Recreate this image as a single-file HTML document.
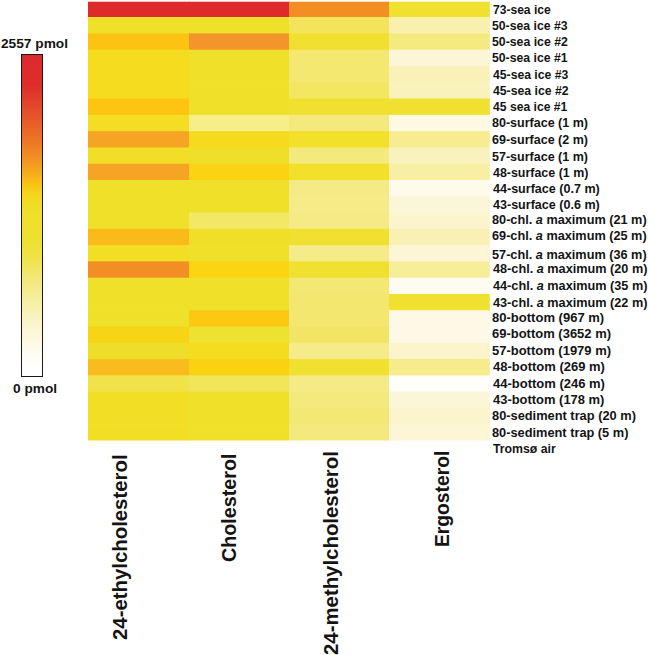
<!DOCTYPE html>
<html><head><meta charset="utf-8"><style>
html,body{margin:0;padding:0;background:#fff;}
body{width:648px;height:655px;position:relative;overflow:hidden;font-family:"Liberation Sans",sans-serif;font-weight:bold;color:#141414;}
svg.g{position:absolute;left:0;top:0;}
.rl{position:absolute;font-size:12.0px;line-height:14px;white-space:nowrap;transform-origin:0 0;}
.rl i{font-style:italic;}
.cb{position:absolute;left:21.3px;top:53.8px;width:19.4px;height:321.5px;border:1.2px solid #1a1a1a;
background:linear-gradient(to bottom,#DC2A2C 0.0%,#DE2E2B 9.4%,#E2402B 14.0%,#E85A2A 20.6%,#EE7826 27.4%,#F39A22 34.0%,#F8B81A 38.7%,#FBC614 40.9%,#F6D41A 43.0%,#F0DC22 45.5%,#EEE02A 49.9%,#EEE030 57.7%,#F0E140 61.8%,#F3E773 68.9%,#F6EEA0 76.1%,#FAF4CB 83.3%,#FDFAE8 90.5%,#FFFFFF 97.0%);}
.cl{position:absolute;font-size:12.4px;line-height:14px;white-space:nowrap;transform-origin:0 0;}
.h{position:absolute;font-size:20.0px;line-height:22px;white-space:nowrap;transform-origin:0 0;}
</style></head><body>
<svg class="g" width="648" height="655" viewBox="0 0 648 655"><rect x="88.00" y="1.70" width="101.60" height="15.90" fill="#DE2A2B"/><rect x="189.00" y="1.70" width="100.60" height="15.90" fill="#DE2A2B"/><rect x="289.00" y="1.70" width="100.60" height="15.90" fill="#F28E22"/><rect x="389.00" y="1.70" width="100.80" height="15.90" fill="#F0E030"/><rect x="88.00" y="17.00" width="101.60" height="17.06" fill="#F0E02A"/><rect x="189.00" y="17.00" width="100.60" height="17.06" fill="#EFE02A"/><rect x="289.00" y="17.00" width="100.60" height="17.06" fill="#F3E45C"/><rect x="389.00" y="17.00" width="100.80" height="17.06" fill="#F8F0AC"/><rect x="88.00" y="33.46" width="101.60" height="16.88" fill="#FDC312"/><rect x="189.00" y="33.46" width="100.60" height="16.88" fill="#F3952A"/><rect x="289.00" y="33.46" width="100.60" height="16.88" fill="#F0E030"/><rect x="389.00" y="33.46" width="100.80" height="16.88" fill="#F5EA80"/><rect x="88.00" y="49.74" width="101.60" height="16.88" fill="#F6DC1E"/><rect x="189.00" y="49.74" width="100.60" height="16.88" fill="#EFE02A"/><rect x="289.00" y="49.74" width="100.60" height="16.88" fill="#F4E870"/><rect x="389.00" y="49.74" width="100.80" height="16.88" fill="#FCF6D6"/><rect x="88.00" y="66.03" width="101.60" height="16.88" fill="#F6DC1E"/><rect x="189.00" y="66.03" width="100.60" height="16.88" fill="#EFE02A"/><rect x="289.00" y="66.03" width="100.60" height="16.88" fill="#F4E870"/><rect x="389.00" y="66.03" width="100.80" height="16.88" fill="#F9F1B8"/><rect x="88.00" y="82.31" width="101.60" height="16.88" fill="#F6DC1E"/><rect x="189.00" y="82.31" width="100.60" height="16.88" fill="#EFE02A"/><rect x="289.00" y="82.31" width="100.60" height="16.88" fill="#F3E660"/><rect x="389.00" y="82.31" width="100.80" height="16.88" fill="#F9F2BC"/><rect x="88.00" y="98.59" width="101.60" height="16.88" fill="#FDC512"/><rect x="189.00" y="98.59" width="100.60" height="16.88" fill="#EFE02A"/><rect x="289.00" y="98.59" width="100.60" height="16.88" fill="#F0E030"/><rect x="389.00" y="98.59" width="100.80" height="16.88" fill="#F0E030"/><rect x="88.00" y="114.87" width="101.60" height="16.88" fill="#F3DE24"/><rect x="189.00" y="114.87" width="100.60" height="16.88" fill="#F6EE88"/><rect x="289.00" y="114.87" width="100.60" height="16.88" fill="#F4E97C"/><rect x="389.00" y="114.87" width="100.80" height="16.88" fill="#FDF9E2"/><rect x="88.00" y="131.15" width="101.60" height="16.88" fill="#F5A424"/><rect x="189.00" y="131.15" width="100.60" height="16.88" fill="#F6DA1E"/><rect x="289.00" y="131.15" width="100.60" height="16.88" fill="#F2E02A"/><rect x="389.00" y="131.15" width="100.80" height="16.88" fill="#F7ED90"/><rect x="88.00" y="147.43" width="101.60" height="16.88" fill="#F2DE26"/><rect x="189.00" y="147.43" width="100.60" height="16.88" fill="#EEE02A"/><rect x="289.00" y="147.43" width="100.60" height="16.88" fill="#F4E97C"/><rect x="389.00" y="147.43" width="100.80" height="16.88" fill="#F9F2BC"/><rect x="88.00" y="163.71" width="101.60" height="16.88" fill="#F6A423"/><rect x="189.00" y="163.71" width="100.60" height="16.88" fill="#FAD414"/><rect x="289.00" y="163.71" width="100.60" height="16.88" fill="#F2E02A"/><rect x="389.00" y="163.71" width="100.80" height="16.88" fill="#F8EFA4"/><rect x="88.00" y="180.00" width="101.60" height="16.88" fill="#EFE02A"/><rect x="189.00" y="180.00" width="100.60" height="16.88" fill="#EFE02A"/><rect x="289.00" y="180.00" width="100.60" height="16.88" fill="#F5EB86"/><rect x="389.00" y="180.00" width="100.80" height="16.88" fill="#FEFBEA"/><rect x="88.00" y="196.28" width="101.60" height="16.88" fill="#EFE02A"/><rect x="189.00" y="196.28" width="100.60" height="16.88" fill="#EFE02A"/><rect x="289.00" y="196.28" width="100.60" height="16.88" fill="#F5EB88"/><rect x="389.00" y="196.28" width="100.80" height="16.88" fill="#FCF6D8"/><rect x="88.00" y="212.56" width="101.60" height="16.88" fill="#EFE02A"/><rect x="189.00" y="212.56" width="100.60" height="16.88" fill="#F3E866"/><rect x="289.00" y="212.56" width="100.60" height="16.88" fill="#F5EB86"/><rect x="389.00" y="212.56" width="100.80" height="16.88" fill="#FBF4CC"/><rect x="88.00" y="228.84" width="101.60" height="16.88" fill="#F9BA1A"/><rect x="189.00" y="228.84" width="100.60" height="16.88" fill="#F0DF28"/><rect x="289.00" y="228.84" width="100.60" height="16.88" fill="#F0E030"/><rect x="389.00" y="228.84" width="100.80" height="16.88" fill="#F9F1B4"/><rect x="88.00" y="245.12" width="101.60" height="16.88" fill="#F2DE24"/><rect x="189.00" y="245.12" width="100.60" height="16.88" fill="#EFE02A"/><rect x="289.00" y="245.12" width="100.60" height="16.88" fill="#F5EB88"/><rect x="389.00" y="245.12" width="100.80" height="16.88" fill="#FCF6D6"/><rect x="88.00" y="261.40" width="101.60" height="16.88" fill="#F28E24"/><rect x="189.00" y="261.40" width="100.60" height="16.88" fill="#FBD512"/><rect x="289.00" y="261.40" width="100.60" height="16.88" fill="#F0E030"/><rect x="389.00" y="261.40" width="100.80" height="16.88" fill="#F7EE9A"/><rect x="88.00" y="277.69" width="101.60" height="16.88" fill="#EFE02A"/><rect x="189.00" y="277.69" width="100.60" height="16.88" fill="#EFE02A"/><rect x="289.00" y="277.69" width="100.60" height="16.88" fill="#F3E874"/><rect x="389.00" y="277.69" width="100.80" height="16.88" fill="#FEFCF0"/><rect x="88.00" y="293.97" width="101.60" height="16.88" fill="#EFE02A"/><rect x="189.00" y="293.97" width="100.60" height="16.88" fill="#EFE02A"/><rect x="289.00" y="293.97" width="100.60" height="16.88" fill="#F3E770"/><rect x="389.00" y="293.97" width="100.80" height="16.88" fill="#F0E030"/><rect x="88.00" y="310.25" width="101.60" height="16.88" fill="#EFE02A"/><rect x="189.00" y="310.25" width="100.60" height="16.88" fill="#FBC812"/><rect x="289.00" y="310.25" width="100.60" height="16.88" fill="#F3E770"/><rect x="389.00" y="310.25" width="100.80" height="16.88" fill="#FDF9E4"/><rect x="88.00" y="326.53" width="101.60" height="16.88" fill="#F8D416"/><rect x="189.00" y="326.53" width="100.60" height="16.88" fill="#EEE230"/><rect x="289.00" y="326.53" width="100.60" height="16.88" fill="#F2E566"/><rect x="389.00" y="326.53" width="100.80" height="16.88" fill="#FDF9E6"/><rect x="88.00" y="342.81" width="101.60" height="16.88" fill="#EEDE2A"/><rect x="189.00" y="342.81" width="100.60" height="16.88" fill="#F4DC1E"/><rect x="289.00" y="342.81" width="100.60" height="16.88" fill="#F5EB88"/><rect x="389.00" y="342.81" width="100.80" height="16.88" fill="#FBF4CC"/><rect x="88.00" y="359.09" width="101.60" height="16.88" fill="#F8BC1E"/><rect x="189.00" y="359.09" width="100.60" height="16.88" fill="#FAD210"/><rect x="289.00" y="359.09" width="100.60" height="16.88" fill="#F0E030"/><rect x="389.00" y="359.09" width="100.80" height="16.88" fill="#F6EC8C"/><rect x="88.00" y="375.37" width="101.60" height="16.88" fill="#F1E24A"/><rect x="189.00" y="375.37" width="100.60" height="16.88" fill="#F2E55A"/><rect x="289.00" y="375.37" width="100.60" height="16.88" fill="#F5EB86"/><rect x="389.00" y="375.37" width="100.80" height="16.88" fill="#FFFEF8"/><rect x="88.00" y="391.66" width="101.60" height="16.88" fill="#F2DE24"/><rect x="189.00" y="391.66" width="100.60" height="16.88" fill="#EFE02A"/><rect x="289.00" y="391.66" width="100.60" height="16.88" fill="#F4E97C"/><rect x="389.00" y="391.66" width="100.80" height="16.88" fill="#FCF6D8"/><rect x="88.00" y="407.94" width="101.60" height="16.88" fill="#F2DE24"/><rect x="189.00" y="407.94" width="100.60" height="16.88" fill="#EFE02A"/><rect x="289.00" y="407.94" width="100.60" height="16.88" fill="#F4E874"/><rect x="389.00" y="407.94" width="100.80" height="16.88" fill="#FBF4CC"/><rect x="88.00" y="424.22" width="101.60" height="16.28" fill="#F2DE24"/><rect x="189.00" y="424.22" width="100.60" height="16.28" fill="#EFE02A"/><rect x="289.00" y="424.22" width="100.60" height="16.28" fill="#F4E97C"/><rect x="389.00" y="424.22" width="100.80" height="16.28" fill="#FCF6D6"/></svg>
<div class="cb"></div>
<div class="cl" id="c1" style="left:0.6px;top:36.9px;transform:scaleX(1.105)">2557 pmol</div>
<div class="cl" id="c2" style="left:13.4px;top:382.1px;transform:scaleX(1.103)">0 pmol</div>
<div class="rl" style="left:492.50px;top:3.20px;transform:scaleX(1.0053)">73-sea ice</div><div class="rl" style="left:492.49px;top:18.80px;transform:scaleX(1.0198)">50-sea ice #3</div><div class="rl" style="left:492.49px;top:34.80px;transform:scaleX(1.0233)">50-sea ice #2</div><div class="rl" style="left:492.49px;top:51.00px;transform:scaleX(1.0198)">50-sea ice #1</div><div class="rl" style="left:492.75px;top:67.70px;transform:scaleX(1.0163)">45-sea ice #3</div><div class="rl" style="left:492.75px;top:83.60px;transform:scaleX(1.0198)">45-sea ice #2</div><div class="rl" style="left:492.75px;top:99.70px;transform:scaleX(1.0117)">45 sea ice #1</div><div class="rl" style="left:492.48px;top:116.30px;transform:scaleX(1.0429)">80-surface (1 m)</div><div class="rl" style="left:492.48px;top:133.30px;transform:scaleX(1.0429)">69-surface (2 m)</div><div class="rl" style="left:492.48px;top:149.80px;transform:scaleX(1.0429)">57-surface (1 m)</div><div class="rl" style="left:492.74px;top:165.70px;transform:scaleX(1.0356)">48-surface (1 m)</div><div class="rl" style="left:492.74px;top:181.80px;transform:scaleX(1.0459)">44-surface (0.7 m)</div><div class="rl" style="left:492.74px;top:198.00px;transform:scaleX(1.0459)">43-surface (0.6 m)</div><div class="rl" style="left:492.47px;top:212.90px;transform:scaleX(1.0586)">80-chl. <i>a</i> maximum (21 m)</div><div class="rl" style="left:492.47px;top:229.40px;transform:scaleX(1.0586)">69-chl. <i>a</i> maximum (25 m)</div><div class="rl" style="left:492.47px;top:247.70px;transform:scaleX(1.0586)">57-chl. <i>a</i> maximum (36 m)</div><div class="rl" style="left:492.74px;top:262.20px;transform:scaleX(1.0568)">48-chl. <i>a</i> maximum (20 m)</div><div class="rl" style="left:492.74px;top:279.10px;transform:scaleX(1.0568)">44-chl. <i>a</i> maximum (35 m)</div><div class="rl" style="left:492.74px;top:296.00px;transform:scaleX(1.0568)">43-chl. <i>a</i> maximum (22 m)</div><div class="rl" style="left:492.46px;top:311.10px;transform:scaleX(1.0856)">80-bottom (967 m)</div><div class="rl" style="left:492.46px;top:327.30px;transform:scaleX(1.0817)">69-bottom (3652 m)</div><div class="rl" style="left:492.46px;top:344.00px;transform:scaleX(1.0817)">57-bottom (1979 m)</div><div class="rl" style="left:492.73px;top:359.70px;transform:scaleX(1.0829)">48-bottom (269 m)</div><div class="rl" style="left:492.73px;top:376.60px;transform:scaleX(1.0829)">44-bottom (246 m)</div><div class="rl" style="left:492.73px;top:392.70px;transform:scaleX(1.0780)">43-bottom (178 m)</div><div class="rl" style="left:492.47px;top:409.10px;transform:scaleX(1.0682)">80-sediment trap (20 m)</div><div class="rl" style="left:492.47px;top:425.60px;transform:scaleX(1.0654)">80-sediment trap (5 m)</div><div class="rl" style="left:492.74px;top:441.80px;transform:scaleX(1.0230)">Tromsø air</div>
<div class="h" style="left:109.00px;top:639.56px;transform:rotate(-90deg) scaleX(1.0180)">24-ethylcholesterol</div><div class="h" style="left:218.30px;top:561.54px;transform:rotate(-90deg) scaleX(0.9865)">Cholesterol</div><div class="h" style="left:319.90px;top:655.26px;transform:rotate(-90deg) scaleX(1.0187)">24-methylcholesterol</div><div class="h" style="left:430.60px;top:546.70px;transform:rotate(-90deg) scaleX(0.9625)">Ergosterol</div>
</body></html>
